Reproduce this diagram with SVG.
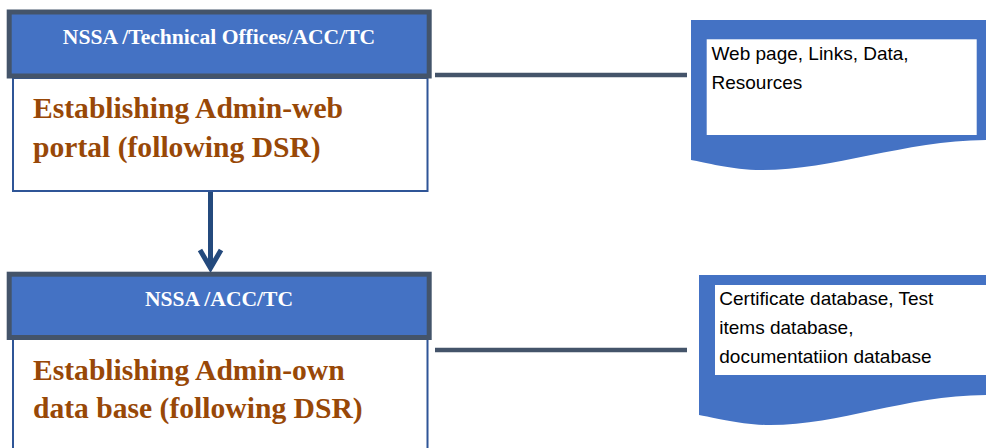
<svg xmlns="http://www.w3.org/2000/svg" width="986" height="448" viewBox="0 0 986 448">
  <style>
    .hdr { fill: #4472C4; stroke: #44546A; stroke-width: 5; }
    .body { fill: #FFFFFF; stroke: #2F5597; stroke-width: 2; }
    .hdr-text { font-family: "Liberation Serif", "Times New Roman", serif; font-weight: bold; font-size: 21.6px; fill: #FFFFFF; text-anchor: middle; }
    .body-text { font-family: "Liberation Serif", "Times New Roman", serif; font-weight: bold; font-size: 29.6px; fill: #984807; }
    .doc { fill: #4472C4; }
    .doc-inner { fill: #FFFFFF; }
    .doc-text { font-family: "Liberation Sans", Arial, sans-serif; font-size: 19px; fill: #000000; }
    .link { stroke: #44546A; stroke-width: 4.5; fill: none; }
    .flow { stroke: #244A7D; stroke-width: 5; fill: none; }
  </style>

  <!-- connectors -->
  <g id="connectors">
    <line class="link" x1="435" y1="75" x2="687" y2="75"/>
    <line class="link" x1="435" y1="350" x2="687" y2="350"/>
    <line class="flow" x1="210.5" y1="188" x2="210.5" y2="268"/>
    <polyline class="flow" points="200,250 210.5,268 221,250"/>
  </g>

  <!-- step 1: web portal -->
  <g id="step-web-portal">
    <rect class="body" x="13" y="78" width="414.5" height="113"/>
    <rect class="hdr" x="9.2" y="12" width="420" height="64"/>
    <text class="hdr-text" x="219" y="44">NSSA /Technical Offices/ACC/TC</text>
    <text class="body-text" x="33" y="118">Establishing Admin-web</text>
    <text class="body-text" x="33" y="157">portal (following DSR)</text>
  </g>

  <!-- step 2: own database -->
  <g id="step-database">
    <rect class="body" x="13" y="338" width="414.5" height="120"/>
    <rect class="hdr" x="9.2" y="274.2" width="420" height="63.3"/>
    <text class="hdr-text" x="219" y="306">NSSA /ACC/TC</text>
    <text class="body-text" x="33" y="380">Establishing Admin-own</text>
    <text class="body-text" x="33" y="418">data base (following DSR)</text>
  </g>

  <!-- output document: web resources -->
  <g id="doc-web-resources">
    <path class="doc" d="M691,20 H990 V140 C905,140 835,170 762,170 C730,170 705,162 691,160 Z"/>
    <rect class="doc-inner" x="706.7" y="39.3" width="270" height="95.7"/>
    <text class="doc-text" x="711.5" y="59.5">Web page, Links, Data,</text>
    <text class="doc-text" x="711.5" y="88.5">Resources</text>
  </g>

  <!-- output document: databases -->
  <g id="doc-databases">
    <path class="doc" d="M699,275 H990 V395 C905,395 842,425 770,425 C740,425 712,417 699,415 Z"/>
    <rect class="doc-inner" x="715" y="285" width="275" height="90"/>
    <text class="doc-text" x="719.3" y="305">Certificate database, Test</text>
    <text class="doc-text" x="719.3" y="334.3">items database,</text>
    <text class="doc-text" x="719.3" y="363.3">documentatiion database</text>
  </g>
</svg>
